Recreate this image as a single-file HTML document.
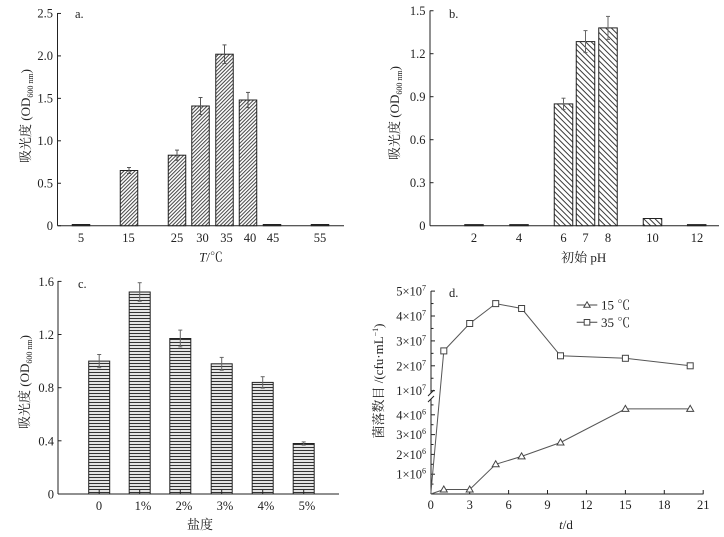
<!DOCTYPE html>
<html><head><meta charset="utf-8"><style>html,body{margin:0;padding:0;background:#fff}svg{display:block}</style></head>
<body>
<svg width="724" height="537" viewBox="0 0 724 537" xmlns="http://www.w3.org/2000/svg" font-family="'Liberation Serif','Noto Serif CJK SC',serif" fill="#222">
<defs>
<pattern id="pa" patternUnits="userSpaceOnUse" width="2.6" height="2.6" patternTransform="rotate(45)"><rect width="2.6" height="2.6" fill="#fff"/><line x1="0.5" y1="0" x2="0.5" y2="2.6" stroke="#444" stroke-width="1"/></pattern>
<pattern id="pb" patternUnits="userSpaceOnUse" width="4" height="4" patternTransform="rotate(-45)"><rect width="4" height="4" fill="#fff"/><line x1="0.5" y1="0" x2="0.5" y2="4" stroke="#3a3a3a" stroke-width="1"/></pattern>
<pattern id="pc" patternUnits="userSpaceOnUse" width="6" height="3"><rect width="6" height="3" fill="#e4e4e4"/><line x1="0" y1="0.5" x2="6" y2="0.5" stroke="#333" stroke-width="1"/></pattern>
</defs>

<!-- ============ Panel a ============ -->
<g stroke="#222" stroke-width="1" fill="none">
<line x1="57.5" y1="13" x2="57.5" y2="225.7"/>
<line x1="57.5" y1="225.7" x2="344" y2="225.7"/>
<line x1="57.5" y1="225.7" x2="61" y2="225.7"/>
<line x1="57.5" y1="183.25" x2="61" y2="183.25"/>
<line x1="57.5" y1="140.8" x2="61" y2="140.8"/>
<line x1="57.5" y1="98.35" x2="61" y2="98.35"/>
<line x1="57.5" y1="55.9" x2="61" y2="55.9"/>
<line x1="57.5" y1="13.45" x2="61" y2="13.45"/>
</g>
<g font-size="12.5" text-anchor="end">
<text x="53" y="230">0</text>
<text x="53" y="187.5">0.5</text>
<text x="53" y="145">1.0</text>
<text x="53" y="102.6">1.5</text>
<text x="53" y="60.1">2.0</text>
<text x="53" y="17.7">2.5</text>
</g>
<g stroke="#222" stroke-width="1" fill="url(#pa)">
<rect x="72.25" y="224.5" width="17.5" height="1.2" fill="#333"/>
<rect x="120.25" y="170.5" width="17.5" height="55.2"/>
<rect x="168.25" y="155.2" width="17.5" height="70.5"/>
<rect x="191.75" y="106" width="17.5" height="119.7"/>
<rect x="215.75" y="54.2" width="17.5" height="171.5"/>
<rect x="239.25" y="100" width="17.5" height="125.7"/>
<rect x="263.25" y="224.5" width="17.5" height="1.2" fill="#333"/>
<rect x="311.25" y="224.5" width="17.5" height="1.2" fill="#333"/>
</g>
<g stroke="#555" stroke-width="1">
<line x1="129" y1="167.5" x2="129" y2="173.5"/><line x1="127" y1="167.5" x2="131" y2="167.5"/><line x1="127" y1="173.5" x2="131" y2="173.5"/>
<line x1="177" y1="150.1" x2="177" y2="160.3"/><line x1="175" y1="150.1" x2="179" y2="150.1"/><line x1="175" y1="160.3" x2="179" y2="160.3"/>
<line x1="200.5" y1="97.5" x2="200.5" y2="114.5"/><line x1="198.5" y1="97.5" x2="202.5" y2="97.5"/><line x1="198.5" y1="114.5" x2="202.5" y2="114.5"/>
<line x1="224.5" y1="44.9" x2="224.5" y2="63.5"/><line x1="222.5" y1="44.9" x2="226.5" y2="44.9"/><line x1="222.5" y1="63.5" x2="226.5" y2="63.5"/>
<line x1="248" y1="92.4" x2="248" y2="107.6"/><line x1="246" y1="92.4" x2="250" y2="92.4"/><line x1="246" y1="107.6" x2="250" y2="107.6"/>
</g>
<g font-size="12.5" text-anchor="middle">
<text x="81" y="242">5</text>
<text x="128.5" y="242">15</text>
<text x="177" y="242">25</text>
<text x="202.5" y="242">30</text>
<text x="226.5" y="242">35</text>
<text x="250" y="242">40</text>
<text x="273" y="242">45</text>
<text x="320" y="242">55</text>
</g>
<text x="75" y="18" font-size="12.5">a.</text>
<text x="211" y="261.5" font-size="13" text-anchor="middle"><tspan font-style="italic">T</tspan>/℃</text>
<text transform="translate(30,116) rotate(-90)" font-size="13" text-anchor="middle">吸光度 (OD<tspan font-size="8" dy="3">600 nm</tspan><tspan dy="-3">)</tspan></text>

<!-- ============ Panel b ============ -->
<g stroke="#222" stroke-width="1" fill="none">
<line x1="430" y1="10.5" x2="430" y2="225.7"/>
<line x1="430" y1="225.7" x2="719" y2="225.7"/>
<line x1="430" y1="182.7" x2="433.5" y2="182.7"/>
<line x1="430" y1="139.7" x2="433.5" y2="139.7"/>
<line x1="430" y1="96.7" x2="433.5" y2="96.7"/>
<line x1="430" y1="53.7" x2="433.5" y2="53.7"/>
<line x1="430" y1="10.75" x2="433.5" y2="10.75"/>
</g>
<g font-size="12.5" text-anchor="end">
<text x="425.5" y="230">0</text>
<text x="425.5" y="187">0.3</text>
<text x="425.5" y="144">0.6</text>
<text x="425.5" y="101">0.9</text>
<text x="425.5" y="58">1.2</text>
<text x="425.5" y="15">1.5</text>
</g>
<g stroke="#222" stroke-width="1" fill="url(#pb)">
<rect x="464.75" y="224.6" width="18.5" height="1.1" fill="#333"/>
<rect x="509.75" y="224.6" width="18.5" height="1.1" fill="#333"/>
<rect x="554.25" y="103.9" width="18.5" height="121.8"/>
<rect x="576.25" y="41.6" width="18.5" height="184.1"/>
<rect x="598.75" y="27.9" width="18.5" height="197.8"/>
<rect x="643.25" y="218.5" width="18.5" height="7.2"/>
<rect x="687.45" y="224.6" width="18.5" height="1.1" fill="#333"/>
</g>
<g stroke="#666" stroke-width="1">
<line x1="563.5" y1="98.2" x2="563.5" y2="109.6"/><line x1="561.5" y1="98.2" x2="565.5" y2="98.2"/><line x1="561.5" y1="109.6" x2="565.5" y2="109.6"/>
<line x1="585.5" y1="30.6" x2="585.5" y2="52.6"/><line x1="583.5" y1="30.6" x2="587.5" y2="30.6"/><line x1="583.5" y1="52.6" x2="587.5" y2="52.6"/>
<line x1="608" y1="16.4" x2="608" y2="39.4"/><line x1="606" y1="16.4" x2="610" y2="16.4"/><line x1="606" y1="39.4" x2="610" y2="39.4"/>
</g>
<g font-size="12.5" text-anchor="middle">
<text x="474" y="242">2</text>
<text x="519" y="242">4</text>
<text x="563.5" y="242">6</text>
<text x="585.5" y="242">7</text>
<text x="608" y="242">8</text>
<text x="652.5" y="242">10</text>
<text x="697" y="242">12</text>
</g>
<text x="449" y="18" font-size="12.5">b.</text>
<text x="583.7" y="262" font-size="13" text-anchor="middle">初始 pH</text>
<text transform="translate(399,113) rotate(-90)" font-size="13" text-anchor="middle">吸光度 (OD<tspan font-size="8" dy="3">600 nm</tspan><tspan dy="-3">)</tspan></text>

<!-- ============ Panel c ============ -->
<g stroke="#222" stroke-width="1" fill="none">
<line x1="58" y1="281" x2="58" y2="494"/>
<line x1="58" y1="494" x2="339" y2="494"/>
<line x1="58" y1="440.8" x2="61.5" y2="440.8"/>
<line x1="58" y1="387.7" x2="61.5" y2="387.7"/>
<line x1="58" y1="334.5" x2="61.5" y2="334.5"/>
<line x1="58" y1="281.4" x2="61.5" y2="281.4"/>
</g>
<g font-size="12.5" text-anchor="end">
<text x="54" y="498.5">0</text>
<text x="54" y="445.3">0.4</text>
<text x="54" y="392.2">0.8</text>
<text x="54" y="339">1.2</text>
<text x="54" y="285.9">1.6</text>
</g>
<g stroke="#222" stroke-width="1" fill="url(#pc)">
<rect x="88.7" y="361.1" width="21" height="132.9"/>
<rect x="129.2" y="292" width="21" height="202"/>
<rect x="169.8" y="338.5" width="21" height="155.5"/>
<rect x="211.2" y="363.8" width="21" height="130.2"/>
<rect x="252.2" y="382.4" width="21" height="111.6"/>
<rect x="293.2" y="443.5" width="21" height="50.5"/>
</g>
<g stroke="#222" stroke-width="1">
<line x1="99.2" y1="494" x2="99.2" y2="490"/>
<line x1="139.7" y1="494" x2="139.7" y2="490"/>
<line x1="180.3" y1="494" x2="180.3" y2="490"/>
<line x1="221.7" y1="494" x2="221.7" y2="490"/>
<line x1="262.7" y1="494" x2="262.7" y2="490"/>
<line x1="303.7" y1="494" x2="303.7" y2="490"/>
</g>
<g stroke="#666" stroke-width="1">
<line x1="99.2" y1="354.5" x2="99.2" y2="367.7"/><line x1="97.2" y1="354.5" x2="101.2" y2="354.5"/><line x1="97.2" y1="367.7" x2="101.2" y2="367.7"/>
<line x1="139.7" y1="282.7" x2="139.7" y2="301.3"/><line x1="137.7" y1="282.7" x2="141.7" y2="282.7"/><line x1="137.7" y1="301.3" x2="141.7" y2="301.3"/>
<line x1="180.3" y1="330.1" x2="180.3" y2="346.9"/><line x1="178.3" y1="330.1" x2="182.3" y2="330.1"/><line x1="178.3" y1="346.9" x2="182.3" y2="346.9"/>
<line x1="221.7" y1="357.4" x2="221.7" y2="370.2"/><line x1="219.7" y1="357.4" x2="223.7" y2="357.4"/><line x1="219.7" y1="370.2" x2="223.7" y2="370.2"/>
<line x1="262.7" y1="376.7" x2="262.7" y2="388.1"/><line x1="260.7" y1="376.7" x2="264.7" y2="376.7"/><line x1="260.7" y1="388.1" x2="264.7" y2="388.1"/>
<line x1="303.7" y1="441.9" x2="303.7" y2="445.1"/><line x1="301.7" y1="441.9" x2="305.7" y2="441.9"/><line x1="301.7" y1="445.1" x2="305.7" y2="445.1"/>
</g>
<g font-size="12.5" text-anchor="middle">
<text x="99" y="510">0</text>
<text x="143" y="510">1%</text>
<text x="184" y="510">2%</text>
<text x="225" y="510">3%</text>
<text x="266" y="510">4%</text>
<text x="307" y="510">5%</text>
</g>
<text x="78" y="288" font-size="12.5">c.</text>
<text x="200" y="529" font-size="13" text-anchor="middle">盐度</text>
<text transform="translate(29,382) rotate(-90)" font-size="13" text-anchor="middle">吸光度 (OD<tspan font-size="8" dy="3">600 nm</tspan><tspan dy="-3">)</tspan></text>

<!-- ============ Panel d ============ -->
<g stroke="#222" stroke-width="1" fill="none">
<line x1="431" y1="291" x2="431" y2="393"/>
<line x1="431" y1="399" x2="431" y2="494"/>
<line x1="428" y1="396" x2="434" y2="390"/>
<line x1="428" y1="402" x2="434" y2="396"/>
<line x1="431" y1="494" x2="703.5" y2="494"/>
<line x1="431" y1="291.1" x2="435" y2="291.1"/>
<line x1="431" y1="303.55" x2="433.5" y2="303.55"/>
<line x1="431" y1="316" x2="435" y2="316"/>
<line x1="431" y1="328.45" x2="433.5" y2="328.45"/>
<line x1="431" y1="340.9" x2="435" y2="340.9"/>
<line x1="431" y1="353.35" x2="433.5" y2="353.35"/>
<line x1="431" y1="365.8" x2="435" y2="365.8"/>
<line x1="431" y1="378.25" x2="433.5" y2="378.25"/>
<line x1="431" y1="390.7" x2="435" y2="390.7"/>
<line x1="431" y1="404.9" x2="433.5" y2="404.9"/>
<line x1="431" y1="414.8" x2="435" y2="414.8"/>
<line x1="431" y1="424.7" x2="433.5" y2="424.7"/>
<line x1="431" y1="434.6" x2="435" y2="434.6"/>
<line x1="431" y1="444.5" x2="433.5" y2="444.5"/>
<line x1="431" y1="454.4" x2="435" y2="454.4"/>
<line x1="431" y1="464.3" x2="433.5" y2="464.3"/>
<line x1="431" y1="474.2" x2="435" y2="474.2"/>
<line x1="431" y1="484.1" x2="433.5" y2="484.1"/>
<line x1="469.7" y1="494" x2="469.7" y2="490"/>
<line x1="508.6" y1="494" x2="508.6" y2="490"/>
<line x1="547.5" y1="494" x2="547.5" y2="490"/>
<line x1="586.4" y1="494" x2="586.4" y2="490"/>
<line x1="625.4" y1="494" x2="625.4" y2="490"/>
<line x1="664.3" y1="494" x2="664.3" y2="490"/>
<line x1="703.2" y1="494" x2="703.2" y2="490"/>
</g>
<g font-size="12.5" text-anchor="end">
<text x="426" y="295.5">5×10<tspan font-size="8" dy="-5">7</tspan></text>
<text x="426" y="320.5">4×10<tspan font-size="8" dy="-5">7</tspan></text>
<text x="426" y="345.4">3×10<tspan font-size="8" dy="-5">7</tspan></text>
<text x="426" y="370.3">2×10<tspan font-size="8" dy="-5">7</tspan></text>
<text x="426" y="395.2">1×10<tspan font-size="8" dy="-5">7</tspan></text>
<text x="426" y="419.3">4×10<tspan font-size="8" dy="-5">6</tspan></text>
<text x="426" y="439.1">3×10<tspan font-size="8" dy="-5">6</tspan></text>
<text x="426" y="458.9">2×10<tspan font-size="8" dy="-5">6</tspan></text>
<text x="426" y="478.7">1×10<tspan font-size="8" dy="-5">6</tspan></text>
</g>
<g font-size="12.5" text-anchor="middle">
<text x="430.8" y="509">0</text>
<text x="469.7" y="509">3</text>
<text x="508.6" y="509">6</text>
<text x="547.5" y="509">9</text>
<text x="586.4" y="509">12</text>
<text x="625.4" y="509">15</text>
<text x="664.3" y="509">18</text>
<text x="703.2" y="509">21</text>
</g>
<text x="449" y="297" font-size="12.5">d.</text>
<text x="566" y="529" font-size="13" text-anchor="middle"><tspan font-style="italic">t</tspan>/d</text>
<text transform="translate(383,381) rotate(-90)" font-size="13" text-anchor="middle">菌落数目 /(cfu·mL<tspan font-size="8" dy="-5">−1</tspan><tspan dy="5">)</tspan></text>

<polyline fill="none" stroke="#555" stroke-width="1" points="430.8,494 443.8,350.9 469.7,323.5 495.7,303.6 521.6,308.5 560.5,355.8 625.4,358.3 690.2,365.8"/>
<g fill="#fff" stroke="#444" stroke-width="1">
<rect x="440.8" y="347.9" width="6" height="6"/>
<rect x="466.7" y="320.5" width="6" height="6"/>
<rect x="492.7" y="300.6" width="6" height="6"/>
<rect x="518.6" y="305.5" width="6" height="6"/>
<rect x="557.5" y="352.8" width="6" height="6"/>
<rect x="622.4" y="355.3" width="6" height="6"/>
<rect x="687.2" y="362.8" width="6" height="6"/>
</g>
<polyline fill="none" stroke="#555" stroke-width="1" points="430.8,494 443.8,489.5 469.7,489.5 495.7,464.3 521.6,456.4 560.5,442.5 625.4,408.9 690.2,408.9"/>
<g fill="#fff" stroke="#444" stroke-width="1">
<path d="M443.8,486 L447.3,492 L440.3,492 Z"/>
<path d="M469.7,486 L473.2,492 L466.2,492 Z"/>
<path d="M495.7,460.8 L499.2,466.8 L492.2,466.8 Z"/>
<path d="M521.6,452.9 L525.1,458.9 L518.1,458.9 Z"/>
<path d="M560.5,439 L564,445 L557,445 Z"/>
<path d="M625.4,405.4 L628.9,411.4 L621.9,411.4 Z"/>
<path d="M690.2,405.4 L693.7,411.4 L686.7,411.4 Z"/>
</g>
<g stroke="#444" stroke-width="1" fill="#fff">
<line x1="576.7" y1="305" x2="597.3" y2="305"/>
<path d="M587,301.8 L590.2,307.2 L583.8,307.2 Z"/>
<line x1="576.7" y1="322.3" x2="597.3" y2="322.3"/>
<rect x="584.2" y="319.5" width="5.6" height="5.6"/>
</g>
<g font-size="13">
<text x="601" y="309.5">15 ℃</text>
<text x="601" y="327">35 ℃</text>
</g>
</svg>
</body></html>
